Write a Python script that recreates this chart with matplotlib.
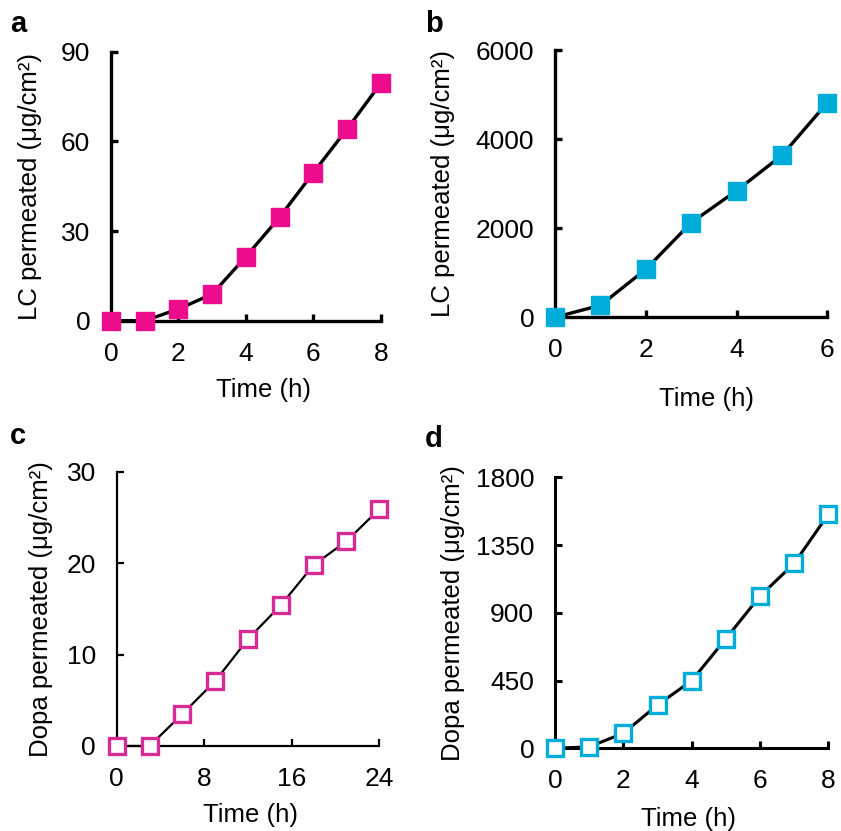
import matplotlib
matplotlib.use("Agg")
import matplotlib.pyplot as plt

plt.rcParams['font.family'] = ['Liberation Sans', 'DejaVu Sans']

# data
time_a = [0, 1, 2, 3, 4, 5, 6, 7, 8]
lc_a = [0, 0, 3.9, 8.9, 21.4, 34.6, 49.5, 64.1, 79.4]

time_b = [0, 1, 2, 3, 4, 5, 6]
lc_b = [0, 269, 1077, 2124, 2842, 3635, 4817]

time_c = [0, 3, 6, 9, 12, 15, 18, 21, 24]
dopa_c = [0, 0, 3.5, 7.1, 11.7, 15.4, 19.8, 22.4, 25.9]

time_d = [0, 1, 2, 3, 4, 5, 6, 7, 8]
dopa_d = [0, 10, 100, 288, 449, 728, 1011, 1228, 1554]

ticks_a = ([0, 2, 4, 6, 8], [0, 30, 60, 90])
ticks_b = ([0, 2, 4, 6], [0, 2000, 4000, 6000])
ticks_c = ([0, 8, 16, 24], [0, 10, 20, 30])
ticks_d = ([0, 2, 4, 6, 8], [0, 450, 900, 1350, 1800])

pink = '#EC0C8C'
cyan = '#00ADDA'
pink2 = '#D62A94'

fig = plt.figure(figsize=(8.41, 8.31), dpi=100)


def panel(rect, x, y, ticks, ylabel, color, filled, lw, xlab_pos, ylab_pos, letter, letter_pos):
    ax = fig.add_axes(rect)
    if filled:
        ax.plot(x, y, '-', color='black', lw=lw, marker='s', ms=13,
                mfc=color, mec=color, clip_on=False, zorder=3)
    else:
        ax.plot(x, y, '-', color='black', lw=lw, marker='s', ms=12,
                mfc='white', mec=color, mew=2.4, clip_on=False, zorder=3)
    xt, yt = ticks
    ax.set_xlim(xt[0], xt[-1])
    ax.set_ylim(yt[0], yt[-1])
    ax.set_xticks(xt)
    ax.set_yticks(yt)
    for s in ['top', 'right']:
        ax.spines[s].set_visible(False)
    for s in ['left', 'bottom']:
        ax.spines[s].set_linewidth(lw)
    ax.tick_params(direction='in', length=5, width=lw, labelsize=19)
    ax.tick_params(axis='x', pad=15)
    ax.tick_params(axis='y', pad=15)
    ax.set_xlabel('Time (h)', fontsize=18.5)
    ax.set_ylabel(ylabel, fontsize=18.5)
    ax.xaxis.set_label_coords(*xlab_pos)
    ax.yaxis.set_label_coords(*ylab_pos)
    fig.text(letter_pos[0], letter_pos[1], letter, fontsize=21,
             fontweight='bold', ha='left', va='baseline')
    return ax


panel([0.132, 0.6141, 0.3207, 0.3237], time_a, lc_a, ticks_a,
      'LC permeated (μg/cm²)', pink, True, 2.4,
      (0.564, -0.213), (-0.256, 0.5), 'a', (0.012, 0.962))
panel([0.660, 0.6182, 0.3237, 0.3216], time_b, lc_b, ticks_b,
      'LC permeated (μg/cm²)', cyan, True, 2.4,
      (0.558, -0.261), (-0.367, 0.5), 'b', (0.505, 0.962))
panel([0.1388, 0.1023, 0.3122, 0.3301], time_c, dopa_c, ticks_c,
      'Dopa permeated (μg/cm²)', pink2, False, 1.6,
      (0.508, -0.208), (-0.243, 0.5), 'c', (0.012, 0.466))
panel([0.660, 0.0995, 0.3249, 0.3261], time_d, dopa_d, ticks_d,
      'Dopa permeated (μg/cm²)', cyan, False, 2.2,
      (0.487, -0.217), (-0.329, 0.5), 'd', (0.505, 0.462))

fig.savefig('out.png', dpi=100)
